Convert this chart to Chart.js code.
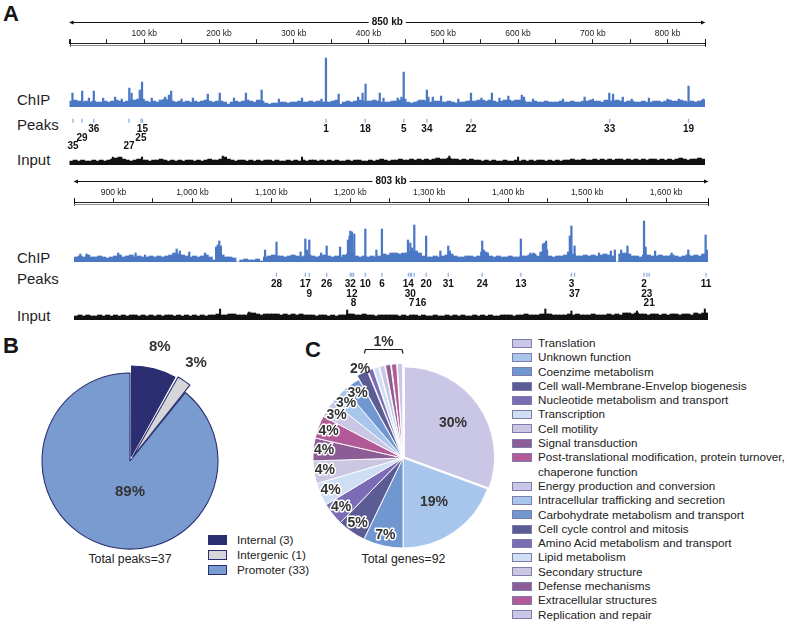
<!DOCTYPE html>
<html>
<head>
<meta charset="utf-8">
<title>ChIP peaks and functional categories</title>
<script src="https://cdn.jsdelivr.net/npm/chart.js@4.4.1/dist/chart.umd.min.js"></script>
<style>
  html,body{margin:0;padding:0;background:#fff;}
  #wrap{position:relative;width:787px;height:625px;overflow:hidden;background:#fff;
        font-family:'Liberation Sans',Arial,Helvetica,sans-serif;color:#222;}
  #wrap canvas{position:absolute;}
  .t{position:absolute;white-space:nowrap;}
  .panel{font-weight:bold;font-size:22px;line-height:22px;color:#161616;}
  .trk{left:17px;font-size:15px;line-height:15px;color:#1e1e1e;}
  .total{font-size:12.3px;line-height:13px;width:120px;text-align:center;color:#222;}
  .leg{position:absolute;font-size:11.7px;color:#222;}
  .leg .row{display:flex;align-items:flex-start;white-space:nowrap;}
  .leg .box{flex:none;box-sizing:border-box;border:1px solid;}
</style>
</head>
<body>
<div id="wrap">
  <div class="t panel" style="left:3px;top:3px">A</div>
  <div class="t panel" style="left:3px;top:335px">B</div>
  <div class="t panel" style="left:305px;top:339px">C</div>
  <div class="t trk" style="top:92px">ChIP</div>
  <div class="t trk" style="top:117px">Peaks</div>
  <div class="t trk" style="top:152px">Input</div>
  <div class="t trk" style="top:250px">ChIP</div>
  <div class="t trk" style="top:271px">Peaks</div>
  <div class="t trk" style="top:308px">Input</div>
  <div id="totB" class="t total" style="left:70px;top:553px"></div>
  <div id="totC" class="t total" style="left:343.5px;top:553px"></div>
  <div id="legB" class="leg" style="left:208px;top:532px;line-height:15px"></div>
  <div id="legC" class="leg" style="left:512px;top:336px;line-height:14.3px"></div>
</div>
<script>
// ======================= DATA =======================
const BIN_KB = 5;                 // width of one signal bin (kb)
const RULER_STEP_KB = 50;         // ruler tick spacing
const RULER_LABEL_KB = 100;       // ruler label spacing
const track1RangeKb = [0, 850];
const track2RangeKb = [850, 1653];

// ChIP signal, 5-kb bins, track 1 (0-850 kb)
const chip1Bins = [
 6,7,6,5,6,5,6,5,5,6,  5,6,7,6,5,6,7,7,8,8,  6,5,6,5,7,8,7,6,5,6,  5,6,5,6,5,6,7,6,5,6,
 6,5,3,5,6,5,6,7,6,5,  7,6,4,3,4,4,5,5,4,5,  5,6,5,5,6,5,6,5,5,5,  6,7,3,5,6,5,6,7,6,6,
 6,7,6,5,5,5,6,6,7,8,  5,4,5,6,7,6,5,6,6,5,  5,6,5,4,5,5,6,6,6,7,  7,6,7,6,5,6,7,7,6,7,
 7,6,5,5,6,5,5,6,5,5,  5,6,5,5,6,5,5,6,6,7,  6,6,5,7,6,6,7,6,5,6,  6,5,5,6,5,5,6,6,5,6,
 7,6,6,7,6,5,6,5,6,7];
// narrow ChIP spikes, track 1
const chip1SpikeKb  = [4,17,26,32.5,45,61,70,80,83,94,97,110,128,133,136,150,165,185,201,220,236,257,280,311,337,343,360,386,392,396,415,420,439,444,447,468,478,480,486,497,520,537,551,565,575,587,605,608,620,660,689,700,722,727,740,752,775,800,815,828,848];
const chip1SpikeVal = [14,16,9,16,9,10,8,19,14,17,25,9,10,12,16,8,9,13,14,9,14,17,8,9,8,49,13,10,14,23,14,9,9,10,35,7,17,10,10,11,8,14,9,14,9,11,12,10,8,8,10,8,14,13,10,8,9,8,8,21,8];
// Input signal, 5-kb bins, track 1
const input1Bins = [
 4,5,4,5,4,4,5,4,5,4,  5,6,7,8,6,5,4,5,6,5,  5,4,5,5,6,5,4,5,4,5,  4,5,5,4,5,4,5,6,5,5,
 6,8,6,5,4,5,5,4,5,4,  5,4,5,5,4,5,4,4,5,4,  5,4,5,4,5,5,4,5,4,5,  4,5,4,4,5,4,5,5,4,4,
 5,4,5,6,5,4,5,5,6,5,  5,6,5,6,5,6,5,6,7,6,  6,7,6,6,5,6,5,6,5,5,  4,5,4,5,4,4,5,4,4,5,
 4,5,4,5,4,5,5,4,5,4,  5,4,5,5,6,5,5,6,5,5,  6,5,6,5,6,5,6,6,5,6,  5,6,5,6,5,6,6,5,6,5,
 6,5,6,7,6,5,6,6,7,6];
const input1SpikeKb  = [58,97,205,311,508,600];
const input1SpikeVal = [8,8,9,8,9,8];
// Peaks, track 1
const peaks1Labels = ['35','29','36','27','25','15','1','18','5','34','22','33','19'];
const peaks1Kb     = [4.7,16.7,32.5,79.5,95.5,97.5,343,395.5,447,478,537,722.5,828];
const peaks1Row    = [3,2,1,3,2,1,1,1,1,1,1,1,1];

// ChIP signal, 5-kb bins, track 2 (850-1653 kb)
const chip2Bins = [
 5,6,5,7,5,5,6,5,4,5,  6,7,5,6,7,5,6,5,5,6,  5,6,5,6,7,9,8,7,6,5,  6,5,6,7,5,2,9,7,5,5,
 4,0,2,3,2,2,3,1,5,6,  7,6,6,5,6,7,6,5,6,7,  6,5,6,7,6,5,6,5,7,8,  9,6,5,6,5,6,5,6,8,7,
 9,9,8,9,9,10,11,9,6,5, 5,6,5,6,7,8,6,5,5,6, 6,5,6,10,9,6,5,6,5,5, 6,5,5,6,6,7,8,6,10,12,
 6,5,6,6,7,10,8,6,6,7, 6,7,6,7,8,7,6,0,8,9,  8,6,6,5,7,7,6,6,7,6,  6,7,6,5,6,7,6,7,6,8,7];
const chip2SpikeKb  = [858,866,906,928,940,980,984,996,1016,1030,1032,1034,1036,1092,1106.5,1137,1143,1145,1148,1163,1170,1187,1197,1199,1200,1202,1205,1219,1233,1240,1273,1276,1278,1281,1296,1314,1324,1326,1367,1369,1372,1416,1428,1432,1444,1446,1448,1478,1480,1484,1515,1530,1535,1543,1551,1572,1574,1586,1607,1628,1650,1652];
const chip2SpikeVal = [8,8,9,9,7,13,11,10,9,15,17,21,16,12,20,10,23,12,22,9,16,15,22,26,31,30,28,33,12,33,22,19,14,37,26,11,16,11,21,12,10,23,9,9,18,19,21,26,36,16,9,11,12,12,16,41,15,11,9,12,27,12];
// Input signal, 5-kb bins, track 2
const input2Bins = [
 4,5,4,5,4,4,5,4,5,4,  5,4,5,4,5,5,4,5,4,5,  4,5,4,5,5,4,5,4,5,4,  5,4,5,4,5,5,6,5,5,6,
 6,5,5,5,7,7,6,5,6,6,  6,6,5,6,5,6,5,6,5,5,  5,4,5,5,4,5,4,5,5,6,  6,5,5,6,5,5,4,5,5,5,
 5,5,4,5,4,5,5,4,5,4,  4,5,4,4,5,4,5,4,5,4,  4,5,4,5,4,5,4,4,5,5,  5,4,5,5,6,5,5,5,6,6,
 6,5,5,5,5,6,5,6,5,5,  5,6,5,5,5,6,5,6,5,7,  7,6,7,6,6,5,6,6,5,6,  5,6,6,5,6,6,5,7,6,7,7];
const input2SpikeKb  = [1035,1072,1196,1447,1480,1563,1649];
const input2SpikeVal = [11,8,10,11,9,9,11];
// Peaks, track 2
const peaks2Labels = ['28','17','9','26','32','12','8','10','6','14','30','7','16','20','31','24','13','3','37','2','23','21','11'];
const peaks2Kb     = [1106.5,1143,1148,1170,1200,1202,1204,1219,1240,1273.5,1276,1277.5,1281,1296,1324,1367,1416,1480,1484,1572,1575.5,1578.5,1650.5];
const peaks2Row    = [1,1,2,1,1,2,3,1,1,1,2,3,3,1,1,1,1,1,2,1,2,3,1];

// Panel B: peak location
const peakCategories = ['Internal','Intergenic','Promoter'];
const peakCounts     = [3,1,33];

// Panel C: functional categories (% of genes)
const geneCategories = ['Translation','Unknown function','Coenzime metabolism','Cell wall-Membrane-Envelop biogenesis',
  'Nucleotide metabolism and transport','Transcription','Cell motility','Signal transduction',
  'Post-translational modification, protein turnover, chaperone function','Energy production and conversion',
  'Intracellular trafficking and secretion','Carbohydrate metabolism and transport','Cell cycle control and mitosis',
  'Amino Acid metabolism and transport','Lipid metabolism','Secondary structure','Defense mechanisms',
  'Extracellular structures','Replication and repair'];
const genePercents = [30,19,7,5,4,4,4,4,4,3,3,3,2,1,1,1,1,1,1];
const totalGenes = 92;

// ======================= STYLE =======================
const FONT = "'Liberation Sans', Arial, Helvetica, sans-serif";
Chart.defaults.font.family = FONT;
const CHIP_BLUE = '#4b78c4';
const PEAK_TICK = '#8fb1e3';
const INPUT_BLACK = '#111111';
const RULER_TITLE_PX = 10;
const PIE_B_COLORS = ['#2b2e70','#d5d5da','#799bd0'];
const PIE_B_BORDER = '#2b2e70';
const PIE_C_PALETTE = ['#c9c6e6','#a8c6ec','#7197d1','#5b5c93','#7c6bb5','#cfdff3','#cbc7e3','#8c5d94','#b25a98'];
const PIE_C_COLORS = genePercents.map((_, i) => PIE_C_PALETTE[i % PIE_C_PALETTE.length]);

// ======================= HELPERS =======================
function makeCanvas(top, height, left = 0, width = 787) {
  const c = document.createElement('canvas');
  c.width = width; c.height = height;
  c.style.left = left + 'px'; c.style.top = top + 'px';
  c.style.width = width + 'px'; c.style.height = height + 'px';
  document.getElementById('wrap').appendChild(c);
  return c;
}
function baseOptions(padding) {
  return { responsive: false, animation: false, events: [], layout: { padding },
    plugins: { legend: { display: false }, tooltip: { enabled: false }, title: { display: false } } };
}

const rulerPlugin = {
  id: 'rulerArrow',
  afterDraw(chart) {
    const s = chart.scales.x, ctx = chart.ctx, area = chart.chartArea;
    const y = Math.round(s.top + RULER_TITLE_PX * 1.2 / 2) + 0.5;
    const text = s.options.title.text;
    ctx.save();
    ctx.font = 'bold ' + RULER_TITLE_PX + 'px ' + FONT;
    const w = ctx.measureText(text).width;
    const cx = (s.left + s.right) / 2;
    ctx.strokeStyle = '#111'; ctx.fillStyle = '#111'; ctx.lineWidth = 1;
    ctx.beginPath();
    ctx.moveTo(s.left + 2, y); ctx.lineTo(cx - w / 2 - 3, y);
    ctx.moveTo(cx + w / 2 + 3, y); ctx.lineTo(s.right - 2, y);
    ctx.stroke();
    ctx.beginPath(); ctx.moveTo(s.right + 0.5, y); ctx.lineTo(s.right - 4, y - 2); ctx.lineTo(s.right - 4, y + 2); ctx.closePath(); ctx.fill();
    ctx.beginPath(); ctx.moveTo(s.left - 0.5, y); ctx.lineTo(s.left + 4, y - 2); ctx.lineTo(s.left + 4, y + 2); ctx.closePath(); ctx.fill();
    const yb = area.top;
    ctx.beginPath();
    [s.left, s.right].forEach(px => { const x = Math.round(px) + 0.5; ctx.moveTo(x, yb - 4); ctx.lineTo(x, yb + 3.5); });
    ctx.stroke();
    ctx.strokeStyle = '#8d8d8d';
    ctx.beginPath(); ctx.moveTo(s.left, Math.round(yb) + 2.5); ctx.lineTo(s.right, Math.round(yb) + 2.5); ctx.stroke();
    ctx.restore();
  }
};

function makePeakLabelPlugin(labels, rows, first, step) {
  return {
    id: 'peakLabels',
    afterDatasetsDraw(chart) {
      const meta = chart.getDatasetMeta(0), ctx = chart.ctx;
      ctx.save();
      ctx.font = 'bold 10px ' + FONT; ctx.fillStyle = '#111';
      ctx.textAlign = 'center'; ctx.textBaseline = 'middle';
      const items = meta.data.map((pt, i) => ({ x: pt.x, y: pt.y, t: labels[i], r: rows[i] })).sort((a, b) => a.x - b.x);
      const lastRight = {};
      for (const it of items) {
        const w = ctx.measureText(it.t).width;
        let cx = it.x;
        const lr = lastRight[it.r];
        if (lr !== undefined && cx - w / 2 < lr + 1) cx = lr + 1 + w / 2;
        lastRight[it.r] = cx + w / 2;
        ctx.fillText(it.t, cx, it.y + first + (it.r - 1) * step);
      }
      ctx.restore();
    }
  };
}

function buildTrack(cfg) {
  const [minKb, maxKb] = cfg.range;
  const padX = { left: cfg.left, right: 787 - cfg.right, top: 0, bottom: 0 };
  const pxPerKb = (cfg.right - cfg.left) / (maxKb - minKb);
  const xHidden = () => ({ type: 'linear', min: minKb, max: maxKb, offset: false, display: false, grid: { offset: false } });
  const binThick = BIN_KB * pxPerKb + 0.35;
  const binned = arr => arr.map((v, i) => ({ x: minKb + (i + 0.5) * BIN_KB, y: v }));
  const pairs = (kb, val) => kb.map((k, i) => ({ x: k, y: val[i] }));

  // genome ruler (the canvas is tall so the top axis is not height-limited)
  const RULER_H = 64;
  new Chart(makeCanvas(cfg.rulerTop, RULER_H), {
    type: 'scatter',
    data: { datasets: [{ data: [] }] },
    options: Object.assign(baseOptions(padX), {
      scales: {
        x: { type: 'linear', position: 'top', min: minKb, max: maxKb,
             ticks: { stepSize: RULER_STEP_KB, autoSkip: false, maxRotation: 0, minRotation: 0, padding: 0,
                      color: '#222', font: { size: 8.5 },
                      callback: v => (v % RULER_LABEL_KB === 0 && v > minKb && v < maxKb) ? v.toLocaleString('en-US') + ' kb' : '' },
             grid: { display: true, drawOnChartArea: false, drawTicks: true, tickLength: 4, tickColor: '#222', tickWidth: 1, color: '#222' },
             border: { display: true, color: '#222', width: 1 },
             title: { display: true, text: (maxKb - minKb) + ' kb', color: '#111',
                      font: { size: RULER_TITLE_PX, weight: 'bold' }, padding: { top: 0, bottom: 1 } } },
        y: { display: false, min: 0, max: 1 }
      }
    }),
    plugins: [rulerPlugin]
  });

  // ChIP signal
  new Chart(makeCanvas(cfg.chipTop, cfg.chipH), {
    type: 'bar',
    data: { datasets: [
      { data: binned(cfg.chipBins), backgroundColor: CHIP_BLUE, barThickness: binThick, grouped: false, borderWidth: 0 },
      { data: pairs(cfg.chipSpikeKb, cfg.chipSpikeVal), backgroundColor: CHIP_BLUE, barThickness: 1.6, grouped: false, borderWidth: 0 }
    ] },
    options: Object.assign(baseOptions(padX), { scales: { x: xHidden(), y: { min: 0, max: cfg.chipH, display: false } } })
  });

  // Peaks
  new Chart(makeCanvas(cfg.peaksTop, cfg.peaksH), {
    type: 'scatter',
    data: { datasets: [{ data: cfg.peakKb.map(k => ({ x: k, y: 'Peaks' })), pointStyle: 'line', rotation: 90,
                         radius: 2, borderColor: PEAK_TICK, backgroundColor: PEAK_TICK, borderWidth: 1.3 }] },
    options: Object.assign(baseOptions({ left: cfg.left, right: 787 - cfg.right, top: 0, bottom: cfg.peaksH - 16 }), {
      scales: { x: xHidden(), y: { type: 'category', labels: ['Peaks'], offset: true, display: false } }
    }),
    plugins: [makePeakLabelPlugin(cfg.peakLabels, cfg.peakRow, cfg.rowFirst, cfg.rowStep)]
  });

  // Input signal
  new Chart(makeCanvas(cfg.inputTop, cfg.inputH), {
    type: 'bar',
    data: { datasets: [
      { data: binned(cfg.inputBins), backgroundColor: INPUT_BLACK, barThickness: binThick, grouped: false, borderWidth: 0 },
      { data: pairs(cfg.inputSpikeKb, cfg.inputSpikeVal), backgroundColor: INPUT_BLACK, barThickness: 1.4, grouped: false, borderWidth: 0 }
    ] },
    options: Object.assign(baseOptions(padX), { scales: { x: xHidden(), y: { min: 0, max: cfg.inputH, display: false } } })
  });
}

buildTrack({ range: track1RangeKb, left: 69.5, right: 705, rulerTop: 16, chipTop: 50, chipH: 57,
  peaksTop: 110, peaksH: 42, inputTop: 153, inputH: 12, rowFirst: 8.5, rowStep: 8.6,
  chipBins: chip1Bins, chipSpikeKb: chip1SpikeKb, chipSpikeVal: chip1SpikeVal,
  inputBins: input1Bins, inputSpikeKb: input1SpikeKb, inputSpikeVal: input1SpikeVal,
  peakLabels: peaks1Labels, peakKb: peaks1Kb, peakRow: peaks1Row });

buildTrack({ range: track2RangeKb, left: 74, right: 708, rulerTop: 175, chipTop: 216, chipH: 46,
  peaksTop: 264, peaksH: 50, inputTop: 308, inputH: 12, rowFirst: 9.5, rowStep: 9.6,
  chipBins: chip2Bins, chipSpikeKb: chip2SpikeKb, chipSpikeVal: chip2SpikeVal,
  inputBins: input2Bins, inputSpikeKb: input2SpikeKb, inputSpikeVal: input2SpikeVal,
  peakLabels: peaks2Labels, peakKb: peaks2Kb, peakRow: peaks2Row });

// ======================= PIES =======================
function makePieLabels(cfg) {
  return {
    id: 'pieLabels',
    afterDatasetsDraw(chart) {
      const meta = chart.getDatasetMeta(0), ds = chart.data.datasets[0], ctx = chart.ctx;
      const vals = ds.data, total = vals.reduce((a, b) => a + b, 0);
      const offs = ds.offset || [];
      ctx.save();
      ctx.font = cfg.font; ctx.textAlign = 'center'; ctx.textBaseline = 'middle';
      ctx.fillStyle = '#333'; ctx.lineJoin = 'round';
      const group = [];
      meta.data.forEach((arc, i) => {
        const mid = (arc.startAngle + arc.endAngle) / 2, R = arc.outerRadius;
        const off = offs[i] || 0, frac = vals[i] / total;
        const txt = cfg.text(vals[i], total);
        if (frac < cfg.groupBelow) { group.push({ arc, off, txt }); return; }
        let r, ang = mid, halo = false;
        if (frac > 0.5) { r = cfg.bigR * R; ang = Math.PI / 2; }
        else if (frac >= 0.1) { r = cfg.midR * R + off; }
        else if (off > 0) { r = R + off + cfg.outPad; }
        else { r = cfg.smallR * R; halo = true; }
        const x = arc.x + r * Math.cos(ang), y = arc.y + r * Math.sin(ang);
        if (halo) { ctx.strokeStyle = '#fff'; ctx.lineWidth = 3; ctx.strokeText(txt, x, y); }
        ctx.fillText(txt, x, y);
      });
      if (group.length) {
        const a0 = group[0].arc.startAngle, a1 = group[group.length - 1].arc.endAngle;
        const R = group[0].arc.outerRadius, off = Math.max(...group.map(g => g.off));
        const rr = R + off + 4, cx = group[0].arc.x, cy = group[0].arc.y;
        const x0 = cx + rr * Math.cos(a0), y0 = cy + rr * Math.sin(a0);
        const x1 = cx + rr * Math.cos(a1), y1 = cy + rr * Math.sin(a1);
        const by = Math.round(Math.min(y0, y1) - 6) + 0.5;
        ctx.strokeStyle = '#222'; ctx.lineWidth = 1.2;
        ctx.beginPath(); ctx.moveTo(x0, by + 4); ctx.lineTo(x0 + 1, by); ctx.lineTo(x1 - 1, by); ctx.lineTo(x1, by + 4); ctx.stroke();
        ctx.fillText(group[0].txt, (x0 + x1) / 2, by - 7);
      }
      ctx.restore();
    }
  };
}

new Chart(makeCanvas(330, 262, 0, 260), {
  type: 'pie',
  data: { labels: peakCategories, datasets: [{ data: peakCounts, backgroundColor: PIE_B_COLORS,
          borderColor: PIE_B_BORDER, borderWidth: 1.1, offset: [19, 19, 0] }] },
  options: Object.assign(baseOptions({ left: 0, right: 0, top: 0, bottom: 0 }), { radius: 88 }),
  plugins: [makePieLabels({ font: 'bold 15px ' + FONT, text: (v, t) => Math.round(v / t * 100) + '%',
    groupBelow: 0, bigR: 0.35, midR: 0.62, smallR: 0.88, outPad: 11 })]
});

new Chart(makeCanvas(330, 256, 303, 200), {
  type: 'pie',
  data: { labels: geneCategories, datasets: [{ data: genePercents, backgroundColor: PIE_C_COLORS,
          borderColor: '#ffffff', borderWidth: 0.9,
          offset: genePercents.map((v, i) => i === 0 ? 7 : (i >= 12 ? 9 : 0)) }] },
  options: Object.assign(baseOptions({ left: 0, right: 0, top: 0, bottom: 0 }), { radius: 90 }),
  plugins: [makePieLabels({ font: 'bold 14px ' + FONT, text: v => v + '%',
    groupBelow: 0.015, bigR: 0.35, midR: 0.6, smallR: 0.88, outPad: 0 })]
});

// ======================= LEGENDS / TOTALS =======================
document.getElementById('totB').textContent = 'Total peaks=' + peakCounts.reduce((a, b) => a + b, 0);
document.getElementById('totC').textContent = 'Total genes=' + totalGenes;

(function () {
  const legB = document.getElementById('legB');
  peakCategories.forEach((c, i) => {
    const row = document.createElement('div'); row.className = 'row';
    const box = document.createElement('span'); box.className = 'box';
    box.style.cssText = 'width:19px;height:10px;margin-top:2.5px;margin-right:10px;background:' + PIE_B_COLORS[i] + ';border-color:' + PIE_B_BORDER;
    const tx = document.createElement('span'); tx.textContent = c + ' (' + peakCounts[i] + ')';
    row.appendChild(box); row.appendChild(tx); legB.appendChild(row);
  });
  const legC = document.getElementById('legC');
  geneCategories.forEach((c, i) => {
    const row = document.createElement('div'); row.className = 'row';
    const box = document.createElement('span'); box.className = 'box';
    box.style.cssText = 'width:20px;height:9px;margin-top:2.65px;margin-right:6px;background:' + PIE_C_COLORS[i] + ';border-color:#7d7cab';
    const tx = document.createElement('span');
    const parts = c.split(', chaperone');
    if (parts.length > 1) { tx.appendChild(document.createTextNode(parts[0] + ',')); tx.appendChild(document.createElement('br')); tx.appendChild(document.createTextNode('chaperone' + parts[1])); }
    else tx.textContent = c;
    row.appendChild(box); row.appendChild(tx); legC.appendChild(row);
  });
})();
</script>
</body>
</html>
